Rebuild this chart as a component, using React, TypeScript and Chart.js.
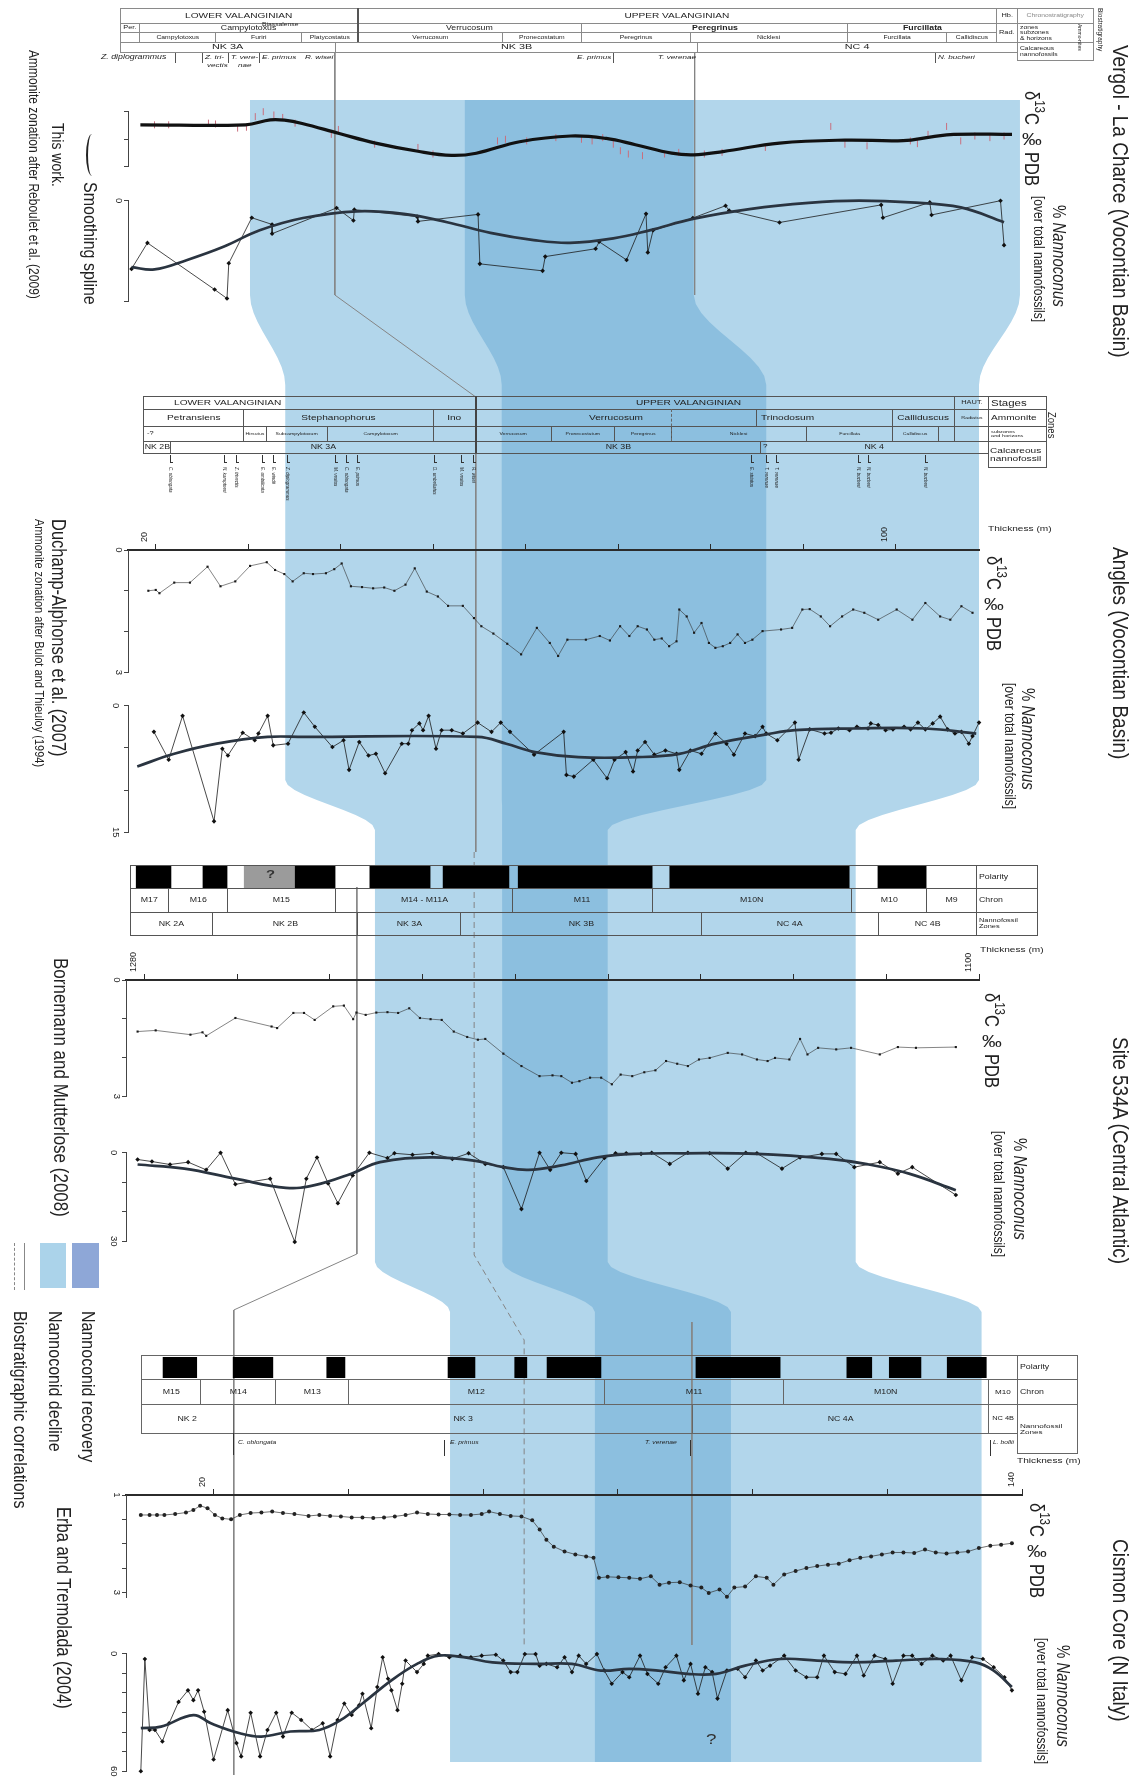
import React, { useEffect, useRef } from 'react';
import { Chart, registerables } from 'chart.js';

Chart.register(...registerables);

const W = 1133;
const H = 1787;
const FONT = '"Liberation Sans", Arial, Helvetica, sans-serif';
const LIGHT = '#b2d6eb';
const DARK = '#8cbfdf';
const KT = 1.35; // horizontal stretch of horizontal lettering
const KV = 1.2; // stretch of vertical lettering

type Pt = [number, number];

// ======================= DATA =======================
// ---- Vergol - La Charce (x: section position, m; y: value) ----
const vergolD13cRaw: Pt[] = [
  [3.0, 0.98], [4.6, 0.98], [9.1, 0.92], [9.9, 0.95], [12.4, 1.1], [13.4, 1.07], [14.4, 0.68], [15.3, 0.5],
  [16.5, 0.62], [17.5, 0.71], [18.9, 0.92], [23.0, 1.33], [23.8, 1.15], [27.9, 1.69], [32.8, 1.81], [34.5, 2.05],
  [41.8, 1.57], [42.7, 1.51], [45.1, 1.57], [48.4, 1.45], [51.3, 1.51], [52.5, 1.57], [53.7, 1.45], [54.9, 1.69],
  [55.7, 1.93], [56.6, 2.05], [58.2, 2.11], [60.7, 2.05], [62.3, 1.99], [65.2, 2.05], [67.2, 1.99], [72.1, 1.81],
  [79.5, 1.04], [81.1, 1.69], [83.6, 1.75], [88.5, 1.57], [89.3, 1.67], [90.5, 1.33], [92.6, 1.04], [94.2, 1.57],
  [95.8, 1.39], [97.5, 1.45], [99.1, 1.39],
];
const vergolD13cSpline: Pt[] = [
  [1.4, 0.98], [13.3, 0.98], [16.1, 0.8], [17.7, 0.81], [19.7, 0.93], [23.9, 1.3], [28.0, 1.65], [32.8, 1.95],
  [36.6, 2.1], [39.4, 2.02], [44.3, 1.6], [50.1, 1.39], [54.1, 1.48], [57.4, 1.71], [61.5, 2.02], [64.0, 2.08],
  [67.3, 1.96], [73.7, 1.65], [81.1, 1.54], [87.7, 1.56], [90.9, 1.42], [93.4, 1.33], [100, 1.33],
];
const vergolNannoRaw: Pt[] = [
  [0.4, 24.4], [2.2, 15.1], [9.8, 31.8], [11.2, 35], [11.4, 22.4], [14.0, 6.1], [16.3, 8.5], [16.3, 11.8],
  [23.6, 2.6], [25.5, 7.1], [25.6, 3.2], [32.7, 5.7], [32.8, 7.4], [39.6, 4.9], [39.8, 22.6], [46.9, 25.1],
  [47.2, 20.0], [52.9, 17.2], [53.3, 14.7], [56.4, 21.2], [58.6, 4.7], [58.8, 18.5], [59.4, 10.6], [63.9, 6.2],
  [67.6, 1.8], [68.0, 3.5], [73.7, 7.8], [85.2, 1.5], [85.4, 6.1], [90.7, 0.6], [90.9, 5.1], [98.7, 0], [99.1, 15.9],
];
const vergolNannoSpline: Pt[] = [
  [0.4, 23.8], [3.0, 24.6], [6.7, 21.2], [10.8, 16.5], [14.9, 10.6], [19.8, 6.2], [25.9, 3.8], [31.2, 4.7],
  [36.1, 7.7], [41.0, 11.5], [45.9, 14.1], [50.0, 15.1], [54.9, 13.5], [59.0, 10.6], [63.9, 6.5], [70.5, 2.9],
  [77.0, 0.8], [82.7, 0], [88.5, 0.6], [94.2, 2.4], [99.1, 7.7],
];

// ---- Angles (x: thickness, m) ----
const anglesD13c: Pt[] = [
  [19.2, 1.0], [20.0, 0.98], [20.4, 1.06], [22.0, 0.8], [23.7, 0.8], [25.6, 0.41], [27.0, 0.89], [28.6, 0.77],
  [30.2, 0.39], [32.0, 0.3], [32.9, 0.49], [33.9, 0.59], [34.8, 0.77], [36.0, 0.57], [37.0, 0.59], [38.4, 0.57],
  [39.3, 0.47], [40.1, 0.33], [41.1, 0.89], [42.3, 0.91], [43.5, 0.94], [44.7, 0.92], [45.8, 1.0], [47.0, 0.85],
  [48.0, 0.45], [49.3, 1.02], [50.5, 1.14], [51.6, 1.37], [53.2, 1.37], [54.4, 1.67], [55.2, 1.87], [56.5, 2.05],
  [58.0, 2.3], [59.5, 2.56], [61.2, 1.91], [62.6, 2.28], [63.5, 2.6], [64.5, 2.2], [66.5, 2.2], [68.0, 2.11],
  [69.1, 2.22], [70.2, 1.87], [71.2, 2.11], [72.1, 1.87], [73.1, 1.95], [73.9, 2.2], [74.7, 2.17], [75.5, 2.36],
  [76.3, 2.24], [76.6, 1.46], [77.4, 1.63], [78.2, 2.03], [79.0, 1.79], [79.8, 2.28], [80.5, 2.4], [81.3, 2.36],
  [82.1, 2.28], [82.9, 2.07], [83.7, 2.28], [84.5, 2.2], [85.6, 1.99], [87.6, 1.95], [88.8, 1.91], [89.9, 1.46],
  [90.7, 1.45], [91.9, 1.63], [92.9, 1.87], [94.2, 1.63], [95.4, 1.46], [96.6, 1.54], [98.1, 1.71], [100.1, 1.46],
  [101.8, 1.71], [103.2, 1.3], [104.8, 1.63], [105.9, 1.71], [107.1, 1.38], [108.3, 1.54],
];
const anglesNannoRaw: Pt[] = [
  [19.8, 3.1], [21.4, 6.4], [22.9, 1.2], [26.3, 13.7], [27.2, 5.1], [27.8, 5.9], [29.4, 3.2], [30.7, 4.1],
  [31.1, 3.3], [32.1, 1.2], [32.7, 4.7], [34.3, 4.5], [36.0, 0.8], [37.2, 2.5], [39.1, 4.9], [40.3, 4.1],
  [40.9, 7.6], [42.0, 4.3], [43.0, 5.9], [43.8, 5.7], [44.8, 8.0], [46.6, 4.5], [47.3, 4.5], [47.7, 2.9],
  [48.5, 2.1], [48.9, 2.9], [49.5, 1.2], [50.3, 5.1], [50.9, 2.9], [52.0, 2.9], [53.2, 3.3], [54.8, 2.0],
  [56.3, 3.1], [57.3, 2.0], [58.3, 3.1], [60.9, 5.8], [64.1, 3.1], [64.4, 8.2], [65.2, 8.4], [67.3, 6.4],
  [68.8, 8.6], [69.6, 6.4], [70.8, 5.5], [71.6, 7.8], [72.1, 5.3], [72.9, 4.3], [73.9, 5.8], [75.1, 5.3],
  [76.3, 5.7], [76.6, 7.6], [77.8, 5.3], [79.0, 5.7], [80.5, 3.3], [81.7, 4.5], [82.5, 5.8], [83.7, 3.3],
  [84.8, 3.6], [85.6, 2.5], [86.0, 3.3], [87.2, 4.1], [89.1, 2.0], [89.5, 6.4], [90.7, 2.8], [92.3, 3.3],
  [93.0, 3.2], [93.8, 2.7], [95.0, 2.9], [95.8, 2.5], [97.0, 2.7], [97.3, 2.1], [98.1, 2.3], [98.9, 2.9],
  [99.7, 2.8], [100.9, 2.5], [101.6, 2.8], [102.4, 2.0], [103.2, 2.8], [104.0, 2.1], [104.8, 1.3], [105.6, 2.8],
  [106.4, 3.3], [107.1, 3.1], [107.9, 4.5], [108.3, 3.6], [109.0, 2.0],
];
const anglesNannoSpline: Pt[] = [
  [18.0, 7.2], [22.0, 5.7], [26.6, 4.5], [32.1, 3.7], [36.0, 3.7], [54.8, 3.7], [57.9, 4.5], [61.0, 5.5],
  [65.7, 6.1], [72.0, 6.1], [76.6, 5.7], [80.5, 4.5], [86.0, 3.4], [89.1, 2.9], [95.4, 2.7], [103.2, 2.7], [108.7, 3.3],
];

// ---- Site 534A (x: depth, m) ----
const s534D13c: Pt[] = [
  [1281.5, 1.33], [1277.6, 1.3], [1270.1, 1.41], [1267.5, 1.35], [1266.7, 1.44], [1260.4, 0.98], [1252.6, 1.2],
  [1251.4, 1.24], [1247.9, 0.85], [1245.6, 0.85], [1243.3, 1.03], [1239.3, 0.68], [1237.0, 0.66], [1235.0, 1.01],
  [1234.3, 0.84], [1232.3, 0.9], [1230.0, 0.84], [1227.6, 0.83], [1225.3, 0.85], [1222.9, 0.73], [1220.6, 0.98],
  [1218.3, 1.01], [1215.9, 1.03], [1213.3, 1.33], [1210.4, 1.47], [1208.1, 1.54], [1206.5, 1.52], [1202.6, 1.9],
  [1198.7, 2.22], [1194.8, 2.48], [1192.0, 2.46], [1190.1, 2.48], [1187.8, 2.65], [1186.2, 2.61], [1183.9, 2.52],
  [1181.5, 2.52], [1179.2, 2.69], [1177.3, 2.44], [1174.8, 2.48], [1172.2, 2.38], [1169.8, 2.33], [1167.5, 2.09],
  [1165.1, 2.16], [1162.8, 2.22], [1160.4, 2.05], [1158.1, 2.01], [1154.2, 1.88], [1151.1, 1.92], [1147.9, 2.05],
  [1145.6, 2.09], [1144.0, 2.01], [1140.9, 2.05], [1138.6, 1.52], [1137.0, 1.92], [1134.7, 1.75], [1130.8, 1.79],
  [1127.6, 1.75], [1121.4, 1.92], [1117.5, 1.73], [1113.6, 1.75], [1105.0, 1.73],
];
const s534NannoRaw: Pt[] = [
  [1281.5, 2.3], [1278.4, 3.0], [1274.5, 4.0], [1270.6, 3.2], [1266.7, 5.8], [1263.6, 0], [1260.4, 10.7],
  [1252.9, 8.8], [1247.6, 30.2], [1245.1, 8.8], [1242.8, 1.6], [1240.4, 10.4], [1238.3, 17.1], [1235.1, 7.7],
  [1231.5, 0], [1227.6, 1.8], [1226.1, 0.2], [1222.2, 0.7], [1217.9, 0.2], [1213.6, 2.1], [1210.1, 0.2],
  [1206.5, 3.8], [1202.6, 4.9], [1198.7, 19.1], [1194.8, 0], [1192.5, 5.8], [1190.1, 0], [1187.0, 0.4],
  [1184.7, 9.6], [1180.8, 1.8], [1178.4, 0.2], [1176.1, 0.2], [1172.9, 0.4], [1170.6, 0], [1166.7, 3.8],
  [1162.8, 0], [1158.1, 0.2], [1154.2, 5.4], [1150.3, 0], [1147.9, 0.2], [1142.5, 5.4], [1138.6, 1.6],
  [1133.9, 0.4], [1130.8, 0.4], [1126.9, 4.9], [1121.4, 3.2], [1117.5, 7.1], [1114.4, 4.9], [1105.0, 14.3],
];
const s534NannoSpline: Pt[] = [
  [1281.5, 4.0], [1271.4, 5.4], [1260.4, 8.8], [1249.5, 11.9], [1243.3, 11.0], [1235.4, 7.1], [1229.2, 3.2],
  [1218.3, 1.6], [1208.9, 2.7], [1202.6, 4.9], [1197.2, 5.8], [1190.1, 4.3], [1182.3, 1.6], [1174.5, 0.4],
  [1163.6, 0.2], [1147.9, 0.4], [1132.3, 2.1], [1124.5, 3.8], [1115.1, 7.1], [1105.0, 12.7],
];
const s534NormalPolarity: Pt[] = [
  [1281.8, 1274.3], [1267.4, 1262.2], [1247.5, 1238.9], [1231.4, 1218.4], [1215.6, 1201.4],
  [1199.4, 1170.5], [1166.7, 1128.0], [1121.8, 1111.4],
];
const s534UncertainPolarity: Pt[] = [[1258.5, 1247.5]];

// ---- Cismon core (x: thickness, m) ----
const cismonD13c: Pt[] = [
  [9.2, 1.41], [10.5, 1.41], [11.6, 1.41], [12.7, 1.41], [14.3, 1.39], [15.9, 1.36], [17.0, 1.31], [18.0, 1.22],
  [19.1, 1.27], [20.2, 1.41], [21.3, 1.48], [22.6, 1.5], [23.9, 1.41], [25.5, 1.37], [27.1, 1.36], [28.7, 1.34],
  [30.3, 1.37], [32.0, 1.39], [34.1, 1.43], [35.7, 1.41], [37.3, 1.43], [38.9, 1.44], [40.5, 1.46], [42.1, 1.46],
  [43.7, 1.47], [45.3, 1.46], [46.9, 1.44], [48.5, 1.41], [50.2, 1.36], [51.8, 1.39], [53.4, 1.4], [55.0, 1.4],
  [56.6, 1.41], [58.2, 1.41], [59.8, 1.39], [60.9, 1.34], [62.5, 1.39], [64.1, 1.43], [65.7, 1.44], [67.3, 1.52],
  [68.4, 1.71], [69.4, 1.92], [70.5, 2.06], [72.1, 2.16], [73.7, 2.22], [75.3, 2.26], [76.4, 2.29], [77.2, 2.7],
  [78.5, 2.68], [80.1, 2.69], [81.7, 2.7], [83.3, 2.72], [84.9, 2.67], [86.2, 2.84], [87.6, 2.8], [89.2, 2.79],
  [90.8, 2.86], [92.4, 2.9], [93.5, 3.01], [95.1, 2.94], [96.2, 3.09], [97.3, 2.9], [98.9, 2.88], [100.5, 2.67],
  [102.1, 2.7], [103.1, 2.84], [104.7, 2.63], [106.4, 2.56], [108.0, 2.5], [109.6, 2.46], [111.2, 2.43],
  [112.8, 2.41], [114.4, 2.34], [116.0, 2.29], [117.6, 2.26], [119.2, 2.22], [120.8, 2.18], [122.4, 2.18],
  [124.0, 2.19], [125.6, 2.12], [127.2, 2.18], [128.8, 2.2], [130.4, 2.18], [132.0, 2.16], [133.6, 2.09],
  [135.3, 2.04], [136.9, 2.02], [138.5, 1.99],
];
const cismonNannoRaw: Pt[] = [
  [9.2, 60], [9.8, 2.7], [10.5, 38.9], [11.3, 38.9], [12.4, 44.8], [13.4, 35.5], [14.8, 24.6], [16.2, 18.7],
  [17.0, 23.7], [17.7, 18.7], [18.6, 29.6], [20.0, 54.0], [22.1, 28.8], [23.4, 45.6], [24.1, 52.4], [25.5, 30.1],
  [26.9, 52.4], [28.0, 38.9], [29.3, 30.1], [30.3, 42.3], [31.6, 30.1], [33.0, 33.8], [34.6, 38.9], [36.2, 35.5],
  [37.3, 52.4], [38.4, 33.8], [39.4, 25.4], [40.5, 31.3], [41.6, 26.3], [42.1, 20.4], [43.4, 38.0], [44.3, 17.0],
  [45.1, 1.8], [45.9, 12.8], [46.4, 18.7], [47.3, 28.8], [48.0, 15.3], [48.5, 3.5], [50.2, 9.4], [51.2, 5.2],
  [51.8, 1.0], [53.4, 0.2], [55.0, 1.8], [56.6, 1.0], [58.2, 1.8], [59.8, 1.0], [61.9, 0.5], [63.0, 3.5],
  [64.1, 9.4], [65.1, 9.4], [66.2, 0.2], [67.8, 0.2], [68.4, 6.1], [69.4, 5.2], [71.0, 6.9], [72.1, 1.8],
  [73.2, 9.4], [74.2, 1.0], [75.3, 5.2], [76.9, 0.2], [78.0, 8.6], [79.1, 15.3], [80.7, 9.4], [81.7, 12.0],
  [83.3, 1.0], [84.4, 10.3], [86.0, 15.3], [87.1, 6.9], [88.7, 1.0], [89.8, 13.6], [90.8, 5.2], [91.9, 20.4],
  [93.0, 6.9], [94.0, 9.4], [94.8, 22.9], [96.2, 8.6], [97.8, 7.7], [98.9, 12.0], [100.5, 3.5], [101.5, 8.6],
  [102.6, 6.1], [104.7, 1.0], [106.4, 8.6], [108.0, 12.0], [109.6, 12.0], [110.6, 1.0], [112.2, 9.4], [113.8, 10.3],
  [115.5, 1.0], [116.5, 11.1], [118.1, 1.0], [119.7, 2.7], [120.8, 15.3], [122.4, 1.0], [123.7, 1.0], [125.1, 5.2],
  [126.7, 1.0], [128.3, 3.5], [129.4, 1.0], [131.0, 13.6], [132.6, 1.8], [134.2, 2.7], [135.8, 6.9], [137.4, 12.0],
  [138.5, 18.7],
];
const cismonNannoSpline: Pt[] = [
  [9.2, 38.0], [12.2, 37.2], [17.0, 31.3], [19.6, 35.5], [23.9, 40.6], [27.1, 42.3], [31.4, 39.7], [35.7, 38.9],
  [38.9, 33.8], [42.1, 25.4], [46.4, 13.6], [50.2, 5.2], [53.4, 1.0], [57.1, 1.8], [61.4, 4.4], [67.8, 5.2],
  [73.2, 5.2], [77.5, 8.6], [81.7, 7.7], [86.0, 8.6], [90.3, 10.3], [94.6, 10.3], [98.9, 6.1], [104.2, 2.7],
  [109.6, 3.5], [114.9, 4.4], [121.3, 3.5], [127.8, 2.7], [133.1, 4.4], [135.8, 8.6], [138.5, 17.0],
];
const cismonNormalPolarity: Pt[] = [
  [12.5, 17.5], [22.9, 28.8], [36.8, 39.5], [54.8, 58.8], [64.7, 66.5], [69.5, 77.5], [91.6, 104.1],
  [114.0, 117.7], [120.3, 125.0], [128.9, 134.7],
];

// ---- nannoconid decline / recovery intervals: [decline base, recovery base, recovery top, interval top] ----
const vergolBandEdges = [13.8, 38.1, 64.0, 100.9];
const anglesBandEdges = [34.0, 57.4, 86.0, 109.0];
const s534BandEdges = [1230.3, 1202.8, 1180.1, 1126.6];
const cismonBandEdges = [55.1, 76.6, 96.8, 134.0];

// ---- biostratigraphic horizons used for correlation lines ----
const horizonVerrucosumBase = { vergol: 23.4, angles: 54.6, s534: 1208.9, cismon: 66.1 };
const horizonOblongata = { s534: 1234.2, cismon: 23.0 };
const horizonVerenaeVergol = 64.1;
const horizonCismonNC4 = 91.0;

// ---- tick labels ----
const vergolD13cTicks = [1, 2];
const vergolNannoTicks = [0, 35];
const anglesD13cTicks = [0, 3];
const anglesNannoTicks = [0, 15];
const anglesThicknessTicks = [20, 100];
const s534D13cTicks = [0, 3];
const s534NannoTicks = [0, 30];
const s534ThicknessTicks = [1280, 1100];
const cismonD13cTicks = [1, 3];
const cismonNannoTicks = [0, 60];
const cismonThicknessTicks = [20, 140];

// ======================= LAYOUT =======================
type Axis = { left: number; right: number; min: number; max: number; reverse: boolean };
const AX: Record<string, Axis> = {
  vergol: { left: 128, right: 1012, min: 0, max: 100, reverse: false },
  angles: { left: 128, right: 979, min: 17, max: 109, reverse: false },
  s534: { left: 126, right: 979, min: 1100, max: 1284, reverse: true },
  cismon: { left: 126, right: 1022, min: 7, max: 140, reverse: false },
};

type Style = 'raw' | 'small' | 'dots' | 'spline' | 'bold' | 'ticks';
type Series = { data: Pt[]; style: Style };

function dataset(s: Series): any {
  const data = s.data.map(([x, y]) => ({ x, y }));
  const base: any = { data, clip: false, showLine: true, tension: 0, fill: false };
  if (s.style === 'raw')
    return { ...base, borderColor: '#1c1c1c', borderWidth: 0.8, pointRadius: 2.3, pointStyle: 'rectRot', pointBackgroundColor: '#111', pointBorderColor: '#111', pointBorderWidth: 0 };
  if (s.style === 'small')
    return { ...base, borderColor: '#333', borderWidth: 0.6, pointRadius: 1.5, pointStyle: 'rect', pointBackgroundColor: '#1a1a1a', pointBorderColor: '#1a1a1a', pointBorderWidth: 0 };
  if (s.style === 'dots')
    return { ...base, borderColor: '#333', borderWidth: 0.7, pointRadius: 2, pointStyle: 'circle', pointBackgroundColor: '#222', pointBorderColor: '#222', pointBorderWidth: 0 };
  if (s.style === 'spline')
    return { ...base, borderColor: '#2a3440', borderWidth: 2.7, pointRadius: 0, tension: 0.4 };
  if (s.style === 'bold')
    return { ...base, borderColor: '#111', borderWidth: 3.2, pointRadius: 0, tension: 0.4 };
  return { ...base, showLine: false, pointStyle: 'line', rotation: 90, pointRadius: 3.5, borderColor: '#c96f7e', pointBorderColor: '#c96f7e', borderWidth: 1, pointBorderWidth: 1 };
}

const labelOnly = (arr: number[]) => (v: any) => (arr.some((l) => Math.abs(l - Number(v)) < 1e-6) ? String(v) : '');

interface PlotProps {
  ax: Axis; top: number; bottom: number; yMin: number; yMax: number; yStep: number; yLabels: number[];
  topAxis?: { step: number; labels: number[] }; series: Series[];
}

function PlotChart(p: PlotProps) {
  const ref = useRef<HTMLCanvasElement>(null);
  const padTop = p.topAxis ? 46 : 8;
  const padBottom = 8;
  const height = p.bottom - p.top + padTop + padBottom;
  useEffect(() => {
    const chart = new Chart(ref.current as HTMLCanvasElement, {
      type: 'scatter',
      data: { datasets: p.series.map(dataset) },
      options: {
        animation: false, responsive: false, devicePixelRatio: 1, events: [],
        layout: { padding: { left: p.ax.left - 26, right: W - p.ax.right, top: p.topAxis ? padTop - 36 : padTop, bottom: padBottom } },
        plugins: { legend: { display: false }, tooltip: { enabled: false } },
        scales: {
          x: {
            type: 'linear', position: 'top', display: !!p.topAxis, min: p.ax.min, max: p.ax.max, reverse: p.ax.reverse,
            afterFit: (s: any) => { if (p.topAxis) s.height = 36; },
            border: { display: true, color: '#2b2b2b', width: 2 },
            grid: { display: true, drawOnChartArea: false, drawTicks: true, tickLength: 6, color: '#2b2b2b', lineWidth: 1 },
            ticks: {
              stepSize: p.topAxis ? p.topAxis.step : 10, includeBounds: false, autoSkip: false, minRotation: 90, maxRotation: 90,
              padding: 2, color: '#222', font: { size: 9, family: FONT }, callback: labelOnly(p.topAxis ? p.topAxis.labels : []),
            },
          } as any,
          y: {
            type: 'linear', position: 'left', min: p.yMin, max: p.yMax, reverse: true,
            afterFit: (s: any) => { s.width = 26; },
            border: { display: true, color: '#444', width: 1 },
            grid: { display: true, drawOnChartArea: false, drawTicks: true, tickLength: 4, color: '#444' },
            ticks: {
              stepSize: p.yStep, includeBounds: false, autoSkip: false, minRotation: -90, maxRotation: -90, crossAlign: 'center',
              padding: 3, color: '#222', font: { size: 9.5, family: FONT }, callback: labelOnly(p.yLabels),
            },
          } as any,
        },
      },
    });
    return () => chart.destroy();
  }, []);
  return <canvas ref={ref} width={W} height={height} style={{ position: 'absolute', left: 0, top: p.top - padTop, width: W, height }} />;
}

function PolarityChart({ ax, top, height, normal, uncertain }: { ax: Axis; top: number; height: number; normal: Pt[]; uncertain: Pt[] }) {
  const ref = useRef<HTMLCanvasElement>(null);
  useEffect(() => {
    const mk = (b: Pt, color: string) => ({
      data: [[b[0], b[1]]], backgroundColor: color, borderWidth: 0, barPercentage: 1, categoryPercentage: 1, grouped: false,
    });
    const chart = new Chart(ref.current as HTMLCanvasElement, {
      type: 'bar',
      data: { labels: ['polarity'], datasets: [...normal.map((b) => mk(b, '#000')), ...uncertain.map((b) => mk(b, '#9b9b9b'))] as any },
      options: {
        indexAxis: 'y', animation: false, responsive: false, devicePixelRatio: 1, events: [],
        layout: { padding: { left: ax.left, right: W - ax.right, top: 0, bottom: 0 } },
        plugins: { legend: { display: false }, tooltip: { enabled: false } },
        scales: {
          x: { type: 'linear', display: false, min: ax.min, max: ax.max, reverse: ax.reverse },
          y: { type: 'category', display: false },
        },
      } as any,
    });
    return () => chart.destroy();
  }, []);
  return <canvas ref={ref} width={W} height={height} style={{ position: 'absolute', left: 0, top, width: W, height }} />;
}

const toPage = (ax: Axis, m: number) => {
  const t = (m - ax.min) / (ax.max - ax.min);
  return ax.reverse ? ax.right - t * (ax.right - ax.left) : ax.left + t * (ax.right - ax.left);
};

function BandsChart() {
  const ref = useRef<HTMLCanvasElement>(null);
  useEffect(() => {
    const levels = [
      { ax: AX.vergol, edges: vergolBandEdges, top: 100, bottom: 295 },
      { ax: AX.angles, edges: anglesBandEdges, top: 385, bottom: 780 },
      { ax: AX.s534, edges: s534BandEdges, top: 830, bottom: 1262 },
      { ax: AX.cismon, edges: cismonBandEdges, top: 1312, bottom: 1762 },
    ];
    const edgePath = (k: number) => {
      const pts: { x: number; y: number }[] = [];
      levels.forEach((lv, i) => {
        const x = toPage(lv.ax, lv.edges[k]);
        if (i > 0) {
          const prev = levels[i - 1];
          const px = toPage(prev.ax, prev.edges[k]);
          for (let s = 1; s < 10; s++) {
            const t = s / 10;
            const e = t * t * (3 - 2 * t);
            pts.push({ x: px + (x - px) * e, y: prev.bottom + (lv.top - prev.bottom) * t });
          }
        }
        pts.push({ x, y: lv.top }, { x, y: lv.bottom });
      });
      return pts;
    };
    const poly = (a: number, b: number) => [...edgePath(a), ...edgePath(b).reverse()];
    const line = (pts: [Axis, number, number][], dashed: boolean) => ({
      data: pts.map(([ax, m, y]) => ({ x: toPage(ax, m), y })), showLine: true, fill: false, pointRadius: 0,
      borderColor: '#858585', borderWidth: 1, borderDash: dashed ? [6, 4] : [], tension: 0,
    });
    const hv = horizonVerrucosumBase;
    const chart = new Chart(ref.current as HTMLCanvasElement, {
      type: 'scatter',
      data: {
        datasets: [
          line([[AX.vergol, hv.vergol, 52], [AX.vergol, hv.vergol, 295], [AX.angles, hv.angles, 397], [AX.angles, hv.angles, 852]], false),
          line([[AX.s534, hv.s534, 852], [AX.s534, hv.s534, 1255], [AX.cismon, hv.cismon, 1340], [AX.cismon, hv.cismon, 1645]], true),
          line([[AX.s534, horizonOblongata.s534, 887], [AX.s534, horizonOblongata.s534, 1254], [AX.cismon, horizonOblongata.cismon, 1310], [AX.cismon, horizonOblongata.cismon, 1775]], false),
          line([[AX.vergol, horizonVerenaeVergol, 52], [AX.vergol, horizonVerenaeVergol, 295]], false),
          line([[AX.cismon, horizonCismonNC4, 1322], [AX.cismon, horizonCismonNC4, 1645]], false),
          { data: poly(1, 2), showLine: true, fill: 'shape', backgroundColor: DARK, borderColor: 'rgba(0,0,0,0)', borderWidth: 0, pointRadius: 0 },
          { data: poly(0, 3), showLine: true, fill: 'shape', backgroundColor: LIGHT, borderColor: 'rgba(0,0,0,0)', borderWidth: 0, pointRadius: 0 },
        ] as any,
      },
      options: {
        animation: false, responsive: false, devicePixelRatio: 1, events: [],
        layout: { padding: 0 },
        plugins: { legend: { display: false }, tooltip: { enabled: false } },
        scales: {
          x: { type: 'linear', display: false, min: 0, max: W },
          y: { type: 'linear', display: false, min: 0, max: H, reverse: true },
        },
      },
    });
    return () => chart.destroy();
  }, []);
  return <canvas ref={ref} width={W} height={H} style={{ position: 'absolute', left: 0, top: 0, width: W, height: H }} />;
}

// ======================= TEXT HELPERS =======================
function T({ x, y, fs, children, it, fw, c, al }: any) {
  return (
    <div style={{
      position: 'absolute', left: x, top: y, fontSize: fs, fontStyle: it ? 'italic' : 'normal', fontWeight: fw || 'normal',
      color: c || '#222', whiteSpace: 'nowrap', lineHeight: 1.05,
      transform: al === 'c' ? `translateX(-50%) scaleX(${KT})` : `scaleX(${KT})`, transformOrigin: al === 'c' ? 'center' : 'left top',
    }}>{children}</div>
  );
}
function V({ x, y, fs, children, c, it, fw }: any) {
  return (
    <div style={{
      position: 'absolute', left: x - fs * 0.6, top: y, width: fs * 1.2, writingMode: 'vertical-rl', fontSize: fs, lineHeight: 1.2,
      whiteSpace: 'nowrap', color: c || '#222', fontStyle: it ? 'italic' : 'normal', fontWeight: fw || 'normal',
      transform: `scaleX(${KV})`, transformOrigin: 'center',
    }}>{children}</div>
  );
}
function VL({ x, y1, y2, c, w, dash }: any) {
  return <div style={{ position: 'absolute', left: x, top: y1, width: 0, height: y2 - y1, borderLeft: `${w || 1}px ${dash ? 'dashed' : 'solid'} ${c || '#555'}` }} />;
}
type Cell = { x1: number; x2: number; y1: number; y2: number; t?: any; fs?: number; fw?: any; al?: string; pl?: number; it?: boolean; c?: string };
function Cells({ cells, color }: { cells: Cell[]; color: string }) {
  return (
    <>
      {cells.map((c, i) => (
        <div key={i} style={{
          position: 'absolute', left: c.x1, top: c.y1, width: c.x2 - c.x1 + 1, height: c.y2 - c.y1 + 1, boxSizing: 'border-box',
          border: `1px solid ${color}`, fontSize: c.fs || 7, fontWeight: c.fw || 'normal', fontStyle: c.it ? 'italic' : 'normal',
          color: c.c || '#222', display: 'flex', alignItems: 'center', justifyContent: c.al === 'left' ? 'flex-start' : 'center',
          paddingLeft: c.pl || 0, whiteSpace: 'nowrap', lineHeight: 1.05, textAlign: 'center',
        }}>
          <span style={{ display: 'inline-block', transform: `scaleX(${KT})`, transformOrigin: c.al === 'left' ? 'left center' : 'center' }}>{c.t}</span>
        </div>
      ))}
    </>
  );
}

const d13cTitle = <span>δ<sup style={{ fontSize: '0.7em' }}>13</sup>C ‰ PDB</span>;
const nannoTitle = <span>% <i>Nannoconus</i></span>;

// ---- tables (layout) ----
const vergolCells: Cell[] = [
  { x1: 120, x2: 357, y1: 8, y2: 23, t: 'LOWER VALANGINIAN', fs: 7.5 },
  { x1: 357, x2: 996, y1: 8, y2: 23, t: 'UPPER VALANGINIAN', fs: 7.5 },
  { x1: 996, x2: 1017, y1: 8, y2: 23, t: 'Hb.', fs: 5.5 },
  { x1: 1017, x2: 1093, y1: 8, y2: 23, t: 'Chronostratigraphy', fs: 5, c: '#888' },
  { x1: 120, x2: 139, y1: 23, y2: 32, t: 'Per.', fs: 5.5 },
  { x1: 139, x2: 357, y1: 23, y2: 32, t: 'Campylotoxus', fs: 6.5 },
  { x1: 357, x2: 581, y1: 23, y2: 32, t: 'Verrucosum', fs: 6.5 },
  { x1: 581, x2: 847, y1: 23, y2: 32, t: 'Peregrinus', fs: 6.5, fw: 'bold' },
  { x1: 847, x2: 996, y1: 23, y2: 32, t: 'Furcillata', fs: 6.5, fw: 'bold' },
  { x1: 996, x2: 1017, y1: 23, y2: 42, t: 'Rad.', fs: 5.5 },
  { x1: 1017, x2: 1093, y1: 23, y2: 42, t: <span style={{ textAlign: 'left', display: 'block' }}>zones<br />subzones<br />&amp; horizons</span>, fs: 5, al: 'left', pl: 2 },
  { x1: 120, x2: 139, y1: 32, y2: 42, t: '' },
  { x1: 139, x2: 215, y1: 32, y2: 42, t: 'Campylotoxus', fs: 5 },
  { x1: 215, x2: 301, y1: 32, y2: 42, t: 'Furiri', fs: 5 },
  { x1: 301, x2: 357, y1: 32, y2: 42, t: 'Platycostatus', fs: 5 },
  { x1: 357, x2: 502, y1: 32, y2: 42, t: 'Verrucosum', fs: 5 },
  { x1: 502, x2: 581, y1: 32, y2: 42, t: 'Pronecostatum', fs: 5 },
  { x1: 581, x2: 690, y1: 32, y2: 42, t: 'Peregrinus', fs: 5 },
  { x1: 690, x2: 847, y1: 32, y2: 42, t: 'Nicklesi', fs: 5 },
  { x1: 847, x2: 946, y1: 32, y2: 42, t: 'Furcillata', fs: 5 },
  { x1: 946, x2: 996, y1: 32, y2: 42, t: 'Callidiscus', fs: 5 },
  { x1: 120, x2: 335, y1: 42, y2: 52, t: 'NK 3A', fs: 8 },
  { x1: 335, x2: 697, y1: 42, y2: 52, t: 'NK 3B', fs: 8 },
  { x1: 697, x2: 1017, y1: 42, y2: 52, t: 'NC 4', fs: 8 },
  { x1: 1017, x2: 1093, y1: 42, y2: 60, t: <span style={{ textAlign: 'left', display: 'block' }}>Calcareous<br />nannofossils</span>, fs: 5, al: 'left', pl: 2 },
];

const anglesCells: Cell[] = [
  { x1: 143, x2: 475, y1: 396, y2: 409, t: 'LOWER VALANGINIAN', fs: 7.5, al: 'left', pl: 30 },
  { x1: 475, x2: 954, y1: 396, y2: 409, t: 'UPPER VALANGINIAN', fs: 7.5, al: 'left', pl: 160 },
  { x1: 954, x2: 988, y1: 396, y2: 409, t: 'HAUT.', fs: 5.5 },
  { x1: 988, x2: 1046, y1: 396, y2: 409, t: 'Stages', fs: 8.5, al: 'left', pl: 2 },
  { x1: 143, x2: 243, y1: 409, y2: 426, t: 'Petransiens', fs: 7.5 },
  { x1: 243, x2: 433, y1: 409, y2: 426, t: 'Stephanophorus', fs: 7.5 },
  { x1: 433, x2: 475, y1: 409, y2: 426, t: 'Ino', fs: 7.5 },
  { x1: 475, x2: 756, y1: 409, y2: 426, t: 'Verrucosum', fs: 7.5 },
  { x1: 756, x2: 892, y1: 409, y2: 426, t: 'Trinodosum', fs: 7.5, al: 'left', pl: 4 },
  { x1: 892, x2: 954, y1: 409, y2: 426, t: 'Calliduscus', fs: 7.5 },
  { x1: 954, x2: 988, y1: 409, y2: 426, t: 'Radiatus', fs: 4 },
  { x1: 988, x2: 1046, y1: 409, y2: 426, t: 'Ammonite', fs: 7.5, al: 'left', pl: 2 },
  { x1: 143, x2: 243, y1: 426, y2: 441, t: '-?', fs: 5.5, al: 'left', pl: 3 },
  { x1: 243, x2: 266, y1: 426, y2: 441, t: 'Hirsutus', fs: 3.8 },
  { x1: 266, x2: 327, y1: 426, y2: 441, t: 'Subcampylotoxum', fs: 3.8 },
  { x1: 327, x2: 433, y1: 426, y2: 441, t: 'Campylotoxum', fs: 3.8 },
  { x1: 433, x2: 475, y1: 426, y2: 441, t: '' },
  { x1: 475, x2: 551, y1: 426, y2: 441, t: 'Verrucosum', fs: 3.8 },
  { x1: 551, x2: 614, y1: 426, y2: 441, t: 'Pronecostatum', fs: 3.8 },
  { x1: 614, x2: 671, y1: 426, y2: 441, t: 'Peregrinus', fs: 3.8 },
  { x1: 671, x2: 806, y1: 426, y2: 441, t: 'Nicklesi', fs: 3.8 },
  { x1: 806, x2: 892, y1: 426, y2: 441, t: 'Furcillata', fs: 3.8 },
  { x1: 892, x2: 938, y1: 426, y2: 441, t: 'Callidiscus', fs: 3.8 },
  { x1: 938, x2: 954, y1: 426, y2: 441, t: '' },
  { x1: 954, x2: 988, y1: 426, y2: 441, t: '' },
  { x1: 988, x2: 1046, y1: 426, y2: 441, t: <span style={{ display: 'block', textAlign: 'left' }}>subzones<br />and horizons</span>, fs: 4.2, al: 'left', pl: 2 },
  { x1: 143, x2: 170, y1: 441, y2: 453, t: 'NK 2B', fs: 6.5 },
  { x1: 170, x2: 475, y1: 441, y2: 453, t: 'NK 3A', fs: 6.5 },
  { x1: 475, x2: 760, y1: 441, y2: 453, t: 'NK 3B', fs: 6.5 },
  { x1: 760, x2: 988, y1: 441, y2: 453, t: 'NK 4', fs: 6.5 },
  { x1: 988, x2: 1046, y1: 441, y2: 467, t: <span style={{ display: 'block', textAlign: 'left' }}>Calcareous<br />nannofossil</span>, fs: 7.5, al: 'left', pl: 1 },
];

const s534Cells: Cell[] = [
  { x1: 130, x2: 976, y1: 865, y2: 888, t: '' },
  { x1: 976, x2: 1037, y1: 865, y2: 888, t: 'Polarity', fs: 6.5, al: 'left', pl: 2 },
  { x1: 130, x2: 168, y1: 888, y2: 912, t: 'M17', fs: 6.5 },
  { x1: 168, x2: 227, y1: 888, y2: 912, t: 'M16', fs: 6.5 },
  { x1: 227, x2: 335, y1: 888, y2: 912, t: 'M15', fs: 6.5 },
  { x1: 335, x2: 512, y1: 888, y2: 912, t: 'M14 - M11A', fs: 6.5 },
  { x1: 512, x2: 652, y1: 888, y2: 912, t: 'M11', fs: 6.5 },
  { x1: 652, x2: 851, y1: 888, y2: 912, t: 'M10N', fs: 6.5 },
  { x1: 851, x2: 926, y1: 888, y2: 912, t: 'M10', fs: 6.5 },
  { x1: 926, x2: 976, y1: 888, y2: 912, t: 'M9', fs: 6.5 },
  { x1: 976, x2: 1037, y1: 888, y2: 912, t: 'Chron', fs: 6.5, al: 'left', pl: 2 },
  { x1: 130, x2: 212, y1: 912, y2: 935, t: 'NK 2A', fs: 6.5 },
  { x1: 212, x2: 357, y1: 912, y2: 935, t: 'NK 2B', fs: 6.5 },
  { x1: 357, x2: 460, y1: 912, y2: 935, t: 'NK 3A', fs: 6.5 },
  { x1: 460, x2: 701, y1: 912, y2: 935, t: 'NK 3B', fs: 6.5 },
  { x1: 701, x2: 878, y1: 912, y2: 935, t: 'NC 4A', fs: 6.5 },
  { x1: 878, x2: 976, y1: 912, y2: 935, t: 'NC 4B', fs: 6.5 },
  { x1: 976, x2: 1037, y1: 912, y2: 935, t: <span style={{ display: 'block', textAlign: 'left' }}>Nannofossil<br />Zones</span>, fs: 5.5, al: 'left', pl: 2 },
];

const cismonCells: Cell[] = [
  { x1: 141, x2: 1017, y1: 1355, y2: 1379, t: '' },
  { x1: 1017, x2: 1077, y1: 1355, y2: 1379, t: 'Polarity', fs: 6.5, al: 'left', pl: 2 },
  { x1: 141, x2: 200, y1: 1379, y2: 1404, t: 'M15', fs: 6.5 },
  { x1: 200, x2: 275, y1: 1379, y2: 1404, t: 'M14', fs: 6.5 },
  { x1: 275, x2: 348, y1: 1379, y2: 1404, t: 'M13', fs: 6.5 },
  { x1: 348, x2: 604, y1: 1379, y2: 1404, t: 'M12', fs: 6.5 },
  { x1: 604, x2: 783, y1: 1379, y2: 1404, t: 'M11', fs: 6.5 },
  { x1: 783, x2: 988, y1: 1379, y2: 1404, t: 'M10N', fs: 6.5 },
  { x1: 988, x2: 1017, y1: 1379, y2: 1404, t: 'M10', fs: 6 },
  { x1: 1017, x2: 1077, y1: 1379, y2: 1404, t: 'Chron', fs: 6.5, al: 'left', pl: 2 },
  { x1: 141, x2: 233, y1: 1404, y2: 1433, t: 'NK 2', fs: 6.5 },
  { x1: 233, x2: 692, y1: 1404, y2: 1433, t: 'NK 3', fs: 6.5 },
  { x1: 692, x2: 988, y1: 1404, y2: 1433, t: 'NC 4A', fs: 6.5 },
  { x1: 988, x2: 1017, y1: 1404, y2: 1433, t: 'NC 4B', fs: 5.5 },
  { x1: 1017, x2: 1077, y1: 1404, y2: 1453, t: <span style={{ display: 'block', textAlign: 'left' }}>Nannofossil<br />Zones</span>, fs: 6, al: 'left', pl: 2 },
];

const anglesMarkers: [number, string][] = [
  [170, 'C. oblongata'], [224, 'N. kamptneri'], [236, 'Z. trivectis'], [262, 'E. umbilicata'], [273, 'E. windii'],
  [287, 'Z. diplogrammus'], [335, 'M. vestus'], [346, 'C. oblongata'], [357, 'E. primus'], [434, 'D. umbellatus'],
  [461, 'M. vestus'], [473, 'R. wisei'], [751, 'E. striatus'], [766, 'T. verenae'], [776, 'T. verenae'],
  [858, 'N. bucheri'], [868, 'N. bucheri'], [925, 'N. bucheri'],
];

export default function App() {
  useEffect(() => {
    document.body.style.margin = '0';
  }, []);
  return (
    <div style={{ position: 'relative', width: W, height: H, overflow: 'hidden', background: '#fff', fontFamily: FONT, color: '#222' }}>
      <BandsChart />

      {/* ---------------- Vergol ---------------- */}
      <PlotChart ax={AX.vergol} top={111} bottom={167} yMin={0.5} yMax={2.5} yStep={1} yLabels={vergolD13cTicks}
        series={[{ data: vergolD13cSpline, style: 'bold' }, { data: vergolD13cRaw, style: 'ticks' }]} />
      <PlotChart ax={AX.vergol} top={200} bottom={302} yMin={0} yMax={36} yStep={35} yLabels={vergolNannoTicks}
        series={[{ data: vergolNannoSpline, style: 'spline' }, { data: vergolNannoRaw, style: 'raw' }]} />
      <Cells cells={vergolCells} color="#8a8a8a" />
      <VL x={357} y1={8} y2={42} w={2} c="#555" />
      <T x={262} y={22} fs={5}>Biassalense</T>
      <V x={1080} y={24} fs={5}>Ammo-nites</V>
      <V x={1101} y={8} fs={6.5}>Biostratigraphy</V>
      <VL x={175} y1={53} y2={63} /><T x={101} y={54} fs={6.5} it>Z. diplogrammus</T>
      <VL x={202} y1={53} y2={63} /><T x={205} y={54} fs={6} it>Z. tri-</T><T x={207} y={62} fs={6} it>vectis</T>
      <VL x={228} y1={53} y2={63} /><T x={231} y={54} fs={6} it>T. vere-</T><T x={238} y={62} fs={6} it>nae</T>
      <VL x={259} y1={53} y2={63} /><T x={262} y={54} fs={6} it>E. primus</T>
      <T x={305} y={54} fs={6} it>R. wisei</T>
      <VL x={613} y1={53} y2={63} /><T x={577} y={54} fs={6} it>E. primus</T>
      <T x={658} y={54} fs={6} it>T. verenae</T>
      <VL x={935} y1={53} y2={63} /><T x={938} y={54} fs={6} it>N. bucheri</T>

      {/* ---------------- Angles ---------------- */}
      <Cells cells={anglesCells} color="#555" />
      <VL x={475} y1={396} y2={453} w={2} c="#444" />
      <VL x={671} y1={409} y2={441} dash c="#666" />
      <T x={763} y={443} fs={6}>?</T>
      <V x={1052} y={412} fs={9.5}>Zones</V>
      {anglesMarkers.map(([x, name], i) => (
        <React.Fragment key={i}>
          <VL x={x} y1={455} y2={463} c="#333" />
          <div style={{ position: 'absolute', left: x, top: 462, width: 3, borderTop: '1px solid #333' }} />
          <V x={x + 1} y={467} fs={4.5} it>{name}</V>
        </React.Fragment>
      ))}
      <T x={988} y={525} fs={7.5}>Thickness (m)</T>
      <PlotChart ax={AX.angles} top={550} bottom={673} yMin={0} yMax={3} yStep={1} yLabels={anglesD13cTicks}
        topAxis={{ step: 10, labels: anglesThicknessTicks }} series={[{ data: anglesD13c, style: 'small' }]} />
      <PlotChart ax={AX.angles} top={705} bottom={833} yMin={0} yMax={15} yStep={5} yLabels={anglesNannoTicks}
        series={[{ data: anglesNannoSpline, style: 'spline' }, { data: anglesNannoRaw, style: 'raw' }]} />

      {/* ---------------- Site 534A ---------------- */}
      <PolarityChart ax={AX.s534} top={866} height={22} normal={s534NormalPolarity} uncertain={s534UncertainPolarity} />
      <Cells cells={s534Cells} color="#555" />
      <T x={266} y={869} fs={11} fw="bold" c="#333">?</T>
      <T x={980} y={946} fs={7.5}>Thickness (m)</T>
      <PlotChart ax={AX.s534} top={980} bottom={1097} yMin={0} yMax={3} yStep={1} yLabels={s534D13cTicks}
        topAxis={{ step: 20, labels: s534ThicknessTicks }} series={[{ data: s534D13c, style: 'small' }]} />
      <PlotChart ax={AX.s534} top={1152} bottom={1242} yMin={0} yMax={30} yStep={10} yLabels={s534NannoTicks}
        series={[{ data: s534NannoSpline, style: 'spline' }, { data: s534NannoRaw, style: 'raw' }]} />

      {/* ---------------- Cismon ---------------- */}
      <PolarityChart ax={AX.cismon} top={1357} height={21} normal={cismonNormalPolarity} uncertain={[]} />
      <Cells cells={cismonCells} color="#666" />
      <VL x={233} y1={1433} y2={1455} c="#333" /><T x={238} y={1440} fs={5} it>C. oblongata</T>
      <VL x={444} y1={1440} y2={1456} c="#333" /><T x={450} y={1440} fs={5} it>E. primus</T>
      <VL x={690} y1={1440} y2={1456} c="#333" /><T x={645} y={1440} fs={5} it>T. verenae</T>
      <VL x={990} y1={1440} y2={1456} c="#333" /><T x={993} y={1440} fs={5} it>L. bollii</T>
      <T x={1017} y={1457} fs={7.5}>Thickness (m)</T>
      <PlotChart ax={AX.cismon} top={1495} bottom={1598} yMin={1} yMax={3.1} yStep={0.5} yLabels={cismonD13cTicks}
        topAxis={{ step: 20, labels: cismonThicknessTicks }} series={[{ data: cismonD13c, style: 'dots' }]} />
      <PlotChart ax={AX.cismon} top={1653} bottom={1772} yMin={0} yMax={60} yStep={10} yLabels={cismonNannoTicks}
        series={[{ data: cismonNannoSpline, style: 'spline' }, { data: cismonNannoRaw, style: 'raw' }]} />
      <T x={706} y={1732} fs={14} c="#333">?</T>

      {/* ---------------- right-hand titles ---------------- */}
      <V x={1119} y={45} fs={19}>Vergol - La Charce (Vocontian Basin)</V>
      <V x={1119} y={547} fs={19}>Angles (Vocontian Basin)</V>
      <V x={1119} y={1037} fs={19}>Site 534A (Central Atlantic)</V>
      <V x={1119} y={1539} fs={19}>Cismon Core (N Italy)</V>

      <V x={1035} y={91} fs={16.5}>{d13cTitle}</V>
      <V x={1038} y={196} fs={12}>[over total nannofossils]</V>
      <V x={1059} y={205} fs={15}>{nannoTitle}</V>

      <V x={997} y={556} fs={16.5}>{d13cTitle}</V>
      <V x={1009} y={683} fs={12}>[over total nannofossils]</V>
      <V x={1028} y={688} fs={15}>{nannoTitle}</V>

      <V x={995} y={993} fs={16.5}>{d13cTitle}</V>
      <V x={998} y={1131} fs={12}>[over total nannofossils]</V>
      <V x={1020} y={1138} fs={15}>{nannoTitle}</V>

      <V x={1040} y={1503} fs={16.5}>{d13cTitle}</V>
      <V x={1041} y={1638} fs={12}>[over total nannofossils]</V>
      <V x={1063} y={1645} fs={15}>{nannoTitle}</V>

      {/* ---------------- left-hand notes ---------------- */}
      <V x={33} y={50} fs={12}>Ammonite zonation after Reboulet et al. (2009)</V>
      <V x={57} y={123} fs={14}>This work.</V>
      <div style={{ position: 'absolute', left: 86, top: 134, width: 10, height: 42, borderLeft: '2px solid #222', borderRadius: '50%' }} />
      <V x={91} y={182} fs={16}>Smoothing spline</V>
      <V x={58} y={519} fs={16.5}>Duchamp-Alphonse et al. (2007)</V>
      <V x={39} y={519} fs={11}>Ammonite zonation after Bulot and Thieuloy (1994)</V>
      <V x={60} y={958} fs={17}>Bornemann and Mutterlose (2008)</V>
      <V x={63} y={1507} fs={16.5}>Erba and Tremolada (2004)</V>

      {/* ---------------- legend ---------------- */}
      <div style={{ position: 'absolute', left: 72, top: 1243, width: 27, height: 45, background: '#8ea7d7' }} />
      <div style={{ position: 'absolute', left: 40, top: 1243, width: 26, height: 45, background: '#abd3ea' }} />
      <VL x={14} y1={1243} y2={1290} dash c="#888" />
      <VL x={24} y1={1243} y2={1290} c="#888" />
      <V x={89} y={1311} fs={16}>Nannoconid recovery</V>
      <V x={56} y={1311} fs={16}>Nannoconid decline</V>
      <V x={21} y={1311} fs={16}>Biostratigraphic correlations</V>
    </div>
  );
}
